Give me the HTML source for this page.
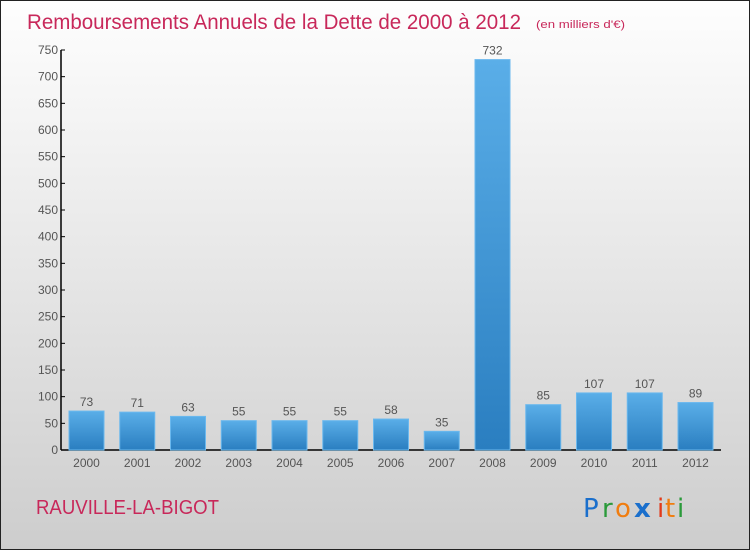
<!DOCTYPE html>
<html><head><meta charset="utf-8"><style>
body{margin:0;width:750px;height:550px;overflow:hidden;font-family:"Liberation Sans",sans-serif}
#c{position:relative;width:748px;height:548px;border:1px solid #222;background:linear-gradient(#fefefe,#e6e6e6 50%,#cdcdcd)}
</style></head><body>
<div id="c">
<svg width="748" height="548" id="s">
<defs><linearGradient id="g" x1="0" y1="0" x2="0" y2="1"><stop offset="0" stop-color="#5aaee8"/><stop offset="1" stop-color="#2a7ec0"/></linearGradient></defs>
<text x="26" y="28" font-size="21" fill="#c8285a" textLength="494" lengthAdjust="spacingAndGlyphs">Remboursements Annuels de la Dette de 2000 à 2012</text>
<text x="535" y="27" font-size="11" fill="#c8285a" textLength="89" lengthAdjust="spacingAndGlyphs">(en milliers d'€)</text>
<text x="35" y="513" font-size="20" fill="#c8285a" textLength="183" lengthAdjust="spacingAndGlyphs">RAUVILLE-LA-BIGOT</text>
<g font-size="26" font-family="DejaVu Sans, sans-serif">
<text x="582" y="516" fill="#1a6fcc">P</text><text x="601" y="516" fill="#2a9a3a">r</text><text x="614" y="516" fill="#f07d10">o</text><text x="633" y="516" fill="#1a6fcc" font-weight="bold">x</text><text x="656" y="516" fill="#e23a1a">i</text><text x="664" y="516" fill="#f07d10">t</text><text x="676" y="516" fill="#2a9a3a">i</text></g>
</svg></div>
<script>
const years=["2000","2001","2002","2003","2004","2005","2006","2007","2008","2009","2010","2011","2012"];
const values=[73,71,63,55,55,55,58,35,732,85,107,107,89];
const ticks=[0,50,100,150,200,250,300,350,400,450,500,550,600,650,700,750];
const s=document.getElementById('s');const NS='http://www.w3.org/2000/svg';
const y=v=>449-v*400/750;const x=i=>85.5+i*50.75;
function mk(t,a,p){const e=document.createElementNS(NS,t);for(const k in a)e.setAttribute(k,a[k]);(p||s).appendChild(e);return e;}
const ax=mk('line',{x1:60,y1:49,x2:60,y2:449,stroke:'#000','stroke-width':1.5});


const xx=mk('line',{x1:60,y1:449,x2:720,y2:449,stroke:'#000','stroke-width':1.5});


ticks.forEach(t=>{
 const l=mk('line',{x1:60,y1:y(t),x2:64,y2:y(t),stroke:'#000'});
 
 
 const tx=mk('text',{x:57,y:y(t)+4,'font-size':12,fill:'#555','text-anchor':'end'});tx.textContent=t;
 
 
});
years.forEach((yr,i)=>{
 const v=values[i];
 const b=mk('rect',{x:x(i)-17.5,y:y(v),width:35,height:449-y(v),fill:'url(#g)',stroke:'#6ab8ee','stroke-width':1});
 
 
 const vl=mk('text',{x:x(i),y:y(v)-5,'font-size':12,fill:'#555','text-anchor':'middle'});vl.textContent=v;
 
 
 const xl=mk('text',{x:x(i),y:466,'font-size':12,fill:'#555','text-anchor':'middle'});xl.textContent=yr;
 
 
});
</script>
</body></html>
